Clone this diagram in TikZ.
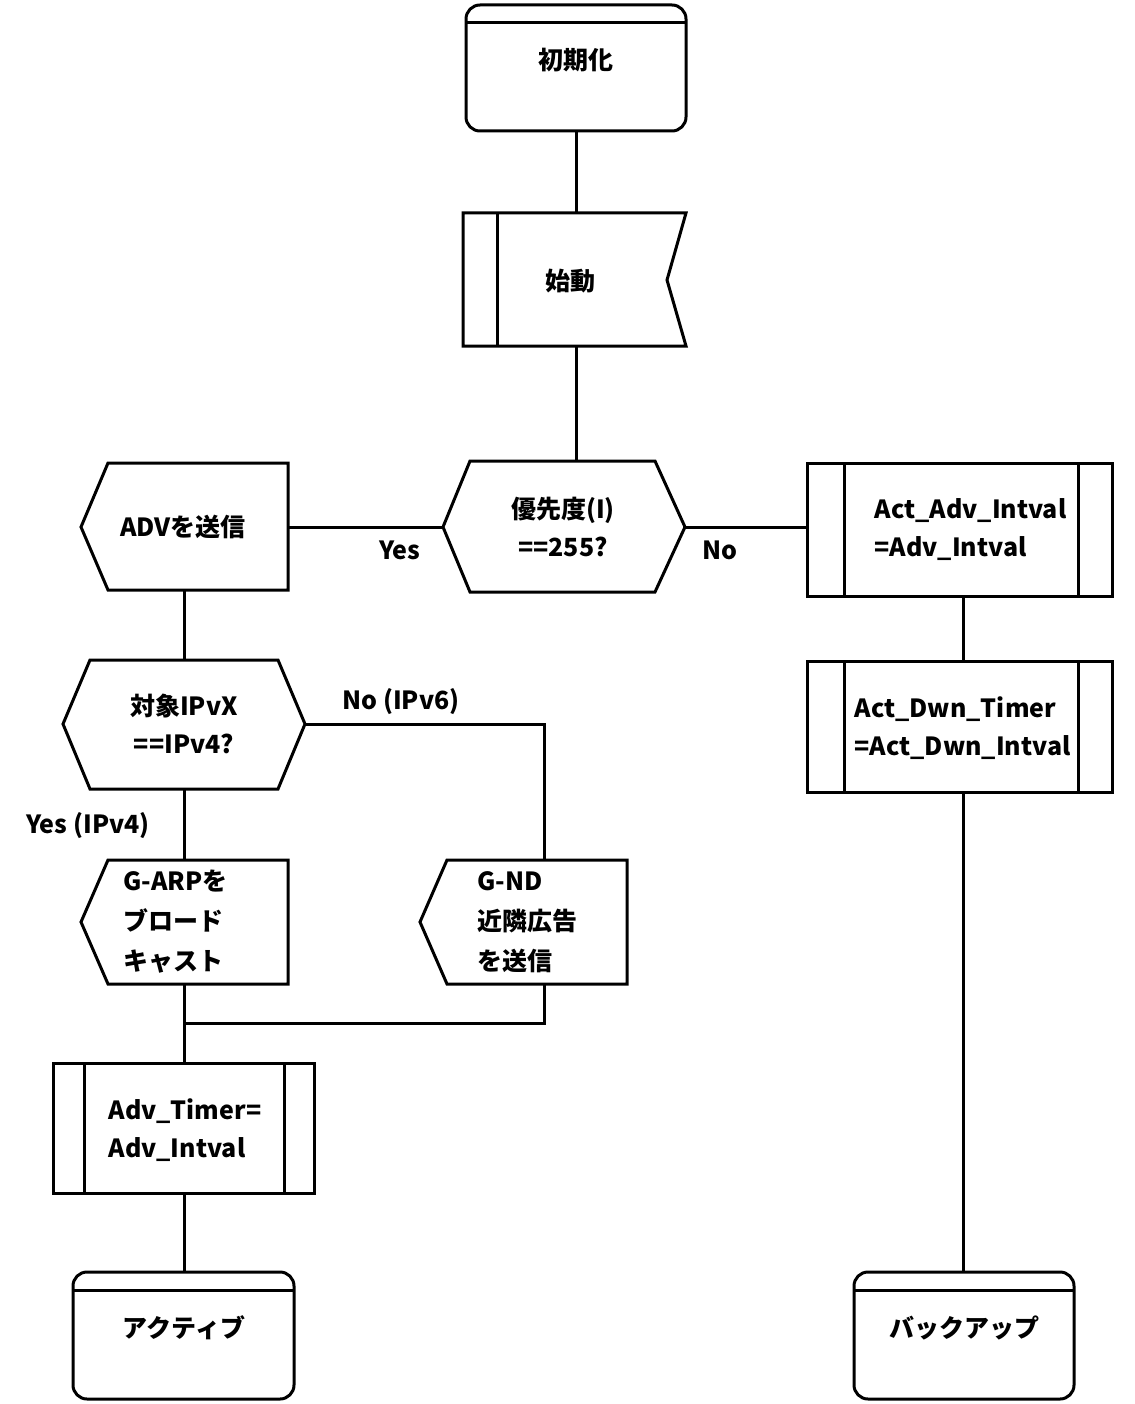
\documentclass[tikz,border=0pt]{standalone}
\usepackage{fontspec}
\setmainfont{Noto Sans CJK JP}
\begin{document}
\begin{tikzpicture}[x=1pt,y=-1pt,line width=3pt,line join=miter,
  txt/.style={font=\bfseries\fontsize{25}{38}\selectfont,align=left,inner sep=0pt},
  lbl/.style={font=\bfseries\fontsize{25}{30}\selectfont,inner sep=0pt}]
\useasboundingbox (0,0) rectangle (1134,1404);
% state symbols
\newcommand\statebox[5]{%
  \draw[rounded corners=14pt] (#1,#2) rectangle (#3,#4);
  \draw (#1,#2+18) -- (#3,#2+18);}
\statebox{466}{5}{686}{131}{}
\node[txt] (init) at (576,60) {初期化};
\statebox{73}{1272}{294}{1399}{}
\node[txt] (act) at (184,1328) {アクティブ};
\statebox{854}{1272}{1074}{1399}{}
\node[txt] (bak) at (964,1328) {バックアップ};
% start
\draw (463,213) -- (686,213) -- (667,280) -- (686,346) -- (463,346) -- cycle;
\draw (497,213) -- (497,346);
\node[txt] (start) at (570,281) {始動};
% decision
\draw (443,527) -- (470,461) -- (655,461) -- (685,527) -- (655,592) -- (470,592) -- cycle;
\node[txt,align=center] (dec1) at (563,527) {優先度(I)\\==255?};
% ADV
\draw (81,527) -- (108,463) -- (288,463) -- (288,590) -- (108,590) -- cycle;
\node[txt] (adv) at (183,527) {ADVを送信};
% right boxes
\draw (807,463) rectangle (1112,596); \draw (844,463) -- (844,596); \draw (1078,463) -- (1078,596);
\node[txt,anchor=west] (aai) at (873,530) {Act\_Adv\_Intval\\=Adv\_Intval};
\draw (807,661) rectangle (1112,792); \draw (844,661) -- (844,792); \draw (1078,661) -- (1078,792);
\node[txt,anchor=west] (adt) at (853,728) {Act\_Dwn\_Timer\\=Act\_Dwn\_Intval};
% IPvX decision
\draw (63,724) -- (90,660) -- (278,660) -- (305,724) -- (278,789) -- (90,789) -- cycle;
\node[txt,align=center] (dec2) at (184,724) {対象IPvX\\==IPv4?};
% G-ARP
\draw (81,922) -- (108,860) -- (288,860) -- (288,984) -- (108,984) -- cycle;
\node[txt,anchor=west,font=\bfseries\fontsize{25}{40}\selectfont] (garp) at (122,922) {G-ARPを\\ブロード\\キャスト};
% G-ND
\draw (420,922) -- (447,860) -- (627,860) -- (627,984) -- (447,984) -- cycle;
\node[txt,anchor=west,font=\bfseries\fontsize{25}{40}\selectfont] (gnd) at (476,922) {G-ND\\近隣広告\\を送信};
% Adv timer
\draw (53,1063) rectangle (314,1193); \draw (84,1063) -- (84,1193); \draw (284,1063) -- (284,1193);
\node[txt,anchor=west] (at) at (107,1130) {Adv\_Timer=\\Adv\_Intval};
% connectors
\draw (576,131) -- (576,213);
\draw (576,346) -- (576,461);
\draw (443,527) -- (288,527);
\draw (685,527) -- (807,527);
\draw (184,590) -- (184,660);
\draw (305,724) -- (544,724) -- (544,860);
\draw (184,789) -- (184,860);
\draw (184,984) -- (184,1063);
\draw (544,984) -- (544,1023) -- (184,1023);
\draw (184,1193) -- (184,1272);
\draw (963,596) -- (963,661);
\draw (963,792) -- (963,1272);
% labels
\node[lbl] (yes1) at (400,550) {Yes};
\node[lbl] (no1) at (720,550) {No};
\node[lbl] (no2) at (401,702) {No (IPv6)};
\node[lbl] (yes2) at (88,826) {Yes (IPv4)};
\end{tikzpicture}
\end{document}
